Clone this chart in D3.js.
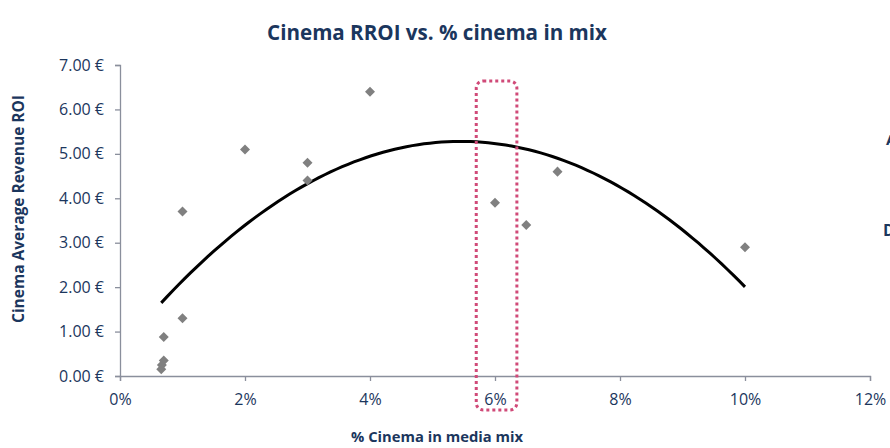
<!DOCTYPE html>
<html>
<head>
<meta charset="utf-8">
<script src="https://cdn.jsdelivr.net/npm/d3@7"></script>
<style>
  html, body { margin: 0; padding: 0; background: #ffffff; }
  svg { display: block; }
</style>
</head>
<body>
<svg id="chart" width="890" height="448"></svg>
<script>
// Share of cinema in the media mix (%) and the average revenue ROI (€)
const cinemaShare = [0.66, 0.67, 0.70, 0.70, 1.0, 1.0, 2.0, 3.0, 3.0, 4.0, 6.0, 6.5, 7.0, 10.0];
const revenueROI  = [0.15, 0.25, 0.35, 0.88, 1.30, 3.70, 5.10, 4.80, 4.40, 6.40, 3.90, 3.40, 4.60, 2.90];

// Second-order polynomial trend line: c0 + c1·x + c2·x², drawn over the data's x range
const trendCoef = [0.576, 1.7256, -0.15825];

const xTicks = [0, 2, 4, 6, 8, 10, 12];
const yTicks = [0, 1, 2, 3, 4, 5, 6, 7];

// Highlighted band around the 6% share
const highlightBand = [5.7, 6.35];

const navy = "#1b365d";
const axisGrey = "#8a8f9c";
const font = "'Open Sans', Lato, sans-serif";

const svg = d3.select("#chart");

const x = d3.scaleLinear().domain([0, 12]).range([120, 870]);
const y = d3.scaleLinear().domain([0, 7]).range([376, 65]);

// Scale a text's font size so that it spans the given width
function fitWidth(sel, width) {
  const base = +sel.attr("font-size");
  const len = sel.node().getComputedTextLength();
  if (len > 0) sel.attr("font-size", (base * width / len).toFixed(2));
  return sel;
}

// Title
fitWidth(svg.append("text")
  .attr("x", 437).attr("y", 40)
  .attr("text-anchor", "middle")
  .attr("font-family", font)
  .attr("font-weight", "bold")
  .attr("font-size", 18)
  .attr("fill", navy)
  .text("Cinema RROI vs. % cinema in mix"), 340);

// Y axis
const yAxis = svg.append("g")
  .attr("transform", `translate(${x(0)},0)`)
  .call(d3.axisLeft(y).tickValues(yTicks).tickSize(5).tickPadding(11)
    .tickFormat(d => d3.format(".2f")(d) + " €"));
yAxis.select(".domain").attr("stroke", axisGrey).attr("stroke-width", 1.3);
yAxis.selectAll(".tick line").attr("stroke", axisGrey).attr("stroke-width", 1.3);
yAxis.selectAll(".tick text")
  .attr("font-family", font).attr("font-size", 16).attr("fill", navy);

// X axis
const xAxis = svg.append("g")
  .attr("transform", `translate(0,${y(0)})`)
  .call(d3.axisBottom(x).tickValues(xTicks).tickSize(5).tickPadding(13)
    .tickFormat(d => d + "%"));
xAxis.select(".domain").attr("stroke", axisGrey).attr("stroke-width", 1.3);
xAxis.selectAll(".tick line").attr("stroke", axisGrey).attr("stroke-width", 1.3);
xAxis.selectAll(".tick text")
  .attr("font-family", font).attr("font-size", 16).attr("fill", navy);

// Axis titles
fitWidth(svg.append("text")
  .attr("x", 437).attr("y", 442)
  .attr("text-anchor", "middle")
  .attr("font-family", font).attr("font-weight", "bold")
  .attr("font-size", 14).attr("fill", navy)
  .text("% Cinema in media mix"), 172);

fitWidth(svg.append("text")
  .attr("transform", "translate(24,209) rotate(-90)")
  .attr("text-anchor", "middle")
  .attr("font-family", font).attr("font-weight", "bold")
  .attr("font-size", 14).attr("fill", navy)
  .text("Cinema Average Revenue ROI"), 228);

// Trend curve
const xMin = d3.min(cinemaShare), xMax = d3.max(cinemaShare);
const trend = d3.range(0, 101).map(i => {
  const xv = xMin + (xMax - xMin) * i / 100;
  return [xv, trendCoef[0] + trendCoef[1] * xv + trendCoef[2] * xv * xv];
});
svg.append("path")
  .datum(trend)
  .attr("fill", "none")
  .attr("stroke", "#000")
  .attr("stroke-width", 3)
  .attr("d", d3.line().x(d => x(d[0])).y(d => y(d[1])));

// Points as diamonds
const points = cinemaShare.map((v, i) => ({ share: v, roi: revenueROI[i] }));
svg.append("g").selectAll("path")
  .data(points)
  .join("path")
  .attr("transform", d => `translate(${x(d.share)},${y(d.roi)})`)
  .attr("d", d3.symbol().type(d3.symbolDiamond2).size(64))
  .attr("fill", "#808080");

// Dotted highlight box around the 6% share
svg.append("rect")
  .attr("x", x(highlightBand[0]))
  .attr("y", 81)
  .attr("width", x(highlightBand[1]) - x(highlightBand[0]))
  .attr("height", 329)
  .attr("rx", 7)
  .attr("fill", "none")
  .attr("stroke", "#d04a78")
  .attr("stroke-width", 3)
  .attr("stroke-dasharray", "3,3");

// Side annotations running off the right edge
svg.append("text")
  .attr("x", 886).attr("y", 145)
  .attr("font-family", font).attr("font-weight", "bold")
  .attr("font-size", 15).attr("fill", navy)
  .text("A");
svg.append("text")
  .attr("x", 883).attr("y", 236)
  .attr("font-family", font).attr("font-weight", "bold")
  .attr("font-size", 16).attr("fill", navy)
  .text("D");
</script>
</body>
</html>
